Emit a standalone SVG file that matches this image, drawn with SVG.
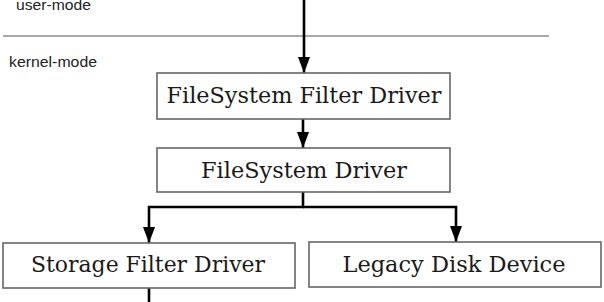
<svg xmlns="http://www.w3.org/2000/svg" width="604" height="302" viewBox="0 0 604 302">
  <style>
    .box { fill: #ffffff; stroke: #666666; stroke-width: 1.6; }
    .label { font-family: "DejaVu Serif", "Liberation Serif", serif; font-size: 22px; fill: #1a1a1a; text-anchor: middle; }
    .mode { font-family: "Liberation Sans", Arial, sans-serif; font-size: 14px; fill: #222222; }
    .conn { fill: none; stroke: #000000; stroke-width: 2.6; }
    .divider { stroke: #555555; stroke-width: 1.2; }
  </style>
  <defs>
    <marker id="ah" markerUnits="userSpaceOnUse" markerWidth="16" markerHeight="12" viewBox="0 0 16 12" refX="16" refY="6" orient="auto">
      <path d="M0,0 L16,6 L0,12 z" fill="#000000"/>
    </marker>
  </defs>

  <g id="modes">
    <text class="mode" x="16" y="10" textLength="75" lengthAdjust="spacingAndGlyphs">user-mode</text>
    <line class="divider" x1="3" y1="36" x2="549" y2="36"/>
    <text class="mode" x="9" y="67" textLength="88" lengthAdjust="spacingAndGlyphs">kernel-mode</text>
  </g>

  <g id="connectors">
    <path class="conn" d="M304,0 V73" marker-end="url(#ah)"/>
    <path class="conn" d="M303,119 V148" marker-end="url(#ah)"/>
    <path class="conn" d="M303,192 V207 H149 V243" marker-end="url(#ah)"/>
    <path class="conn" d="M303,207 H456 V242" marker-end="url(#ah)"/>
    <path class="conn" d="M149,288 V302"/>
  </g>

  <g id="fs-filter-driver">
    <rect class="box" x="157" y="73" width="293" height="46"/>
    <text class="label" x="304" y="103" textLength="275" lengthAdjust="spacingAndGlyphs">FileSystem Filter Driver</text>
  </g>

  <g id="fs-driver">
    <rect class="box" x="157" y="148" width="293" height="44"/>
    <text class="label" x="304" y="178" textLength="206" lengthAdjust="spacingAndGlyphs">FileSystem Driver</text>
  </g>

  <g id="storage-filter-driver">
    <rect class="box" x="3" y="243" width="292" height="45"/>
    <text class="label" x="148" y="272" textLength="234" lengthAdjust="spacingAndGlyphs">Storage Filter Driver</text>
  </g>

  <g id="legacy-disk-device">
    <rect class="box" x="309" y="242" width="292" height="45"/>
    <text class="label" x="454" y="272" textLength="223" lengthAdjust="spacingAndGlyphs">Legacy Disk Device</text>
  </g>
</svg>
